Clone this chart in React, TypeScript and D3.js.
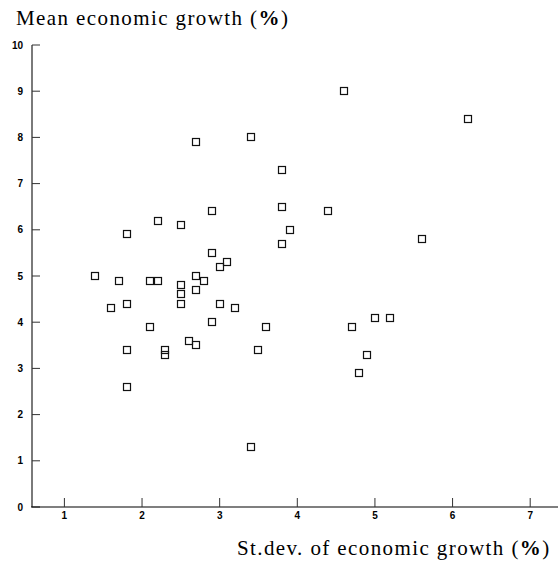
import React from "react";
import * as d3 from "d3";

const xValues: number[] = [
  1.4, 1.7, 2.1, 2.2, 2.5, 2.5, 2.5, 2.7, 2.8, 2.7, 3.0, 3.1, 1.8, 1.6, 3.0, 3.2,
  2.1, 2.9, 3.6, 2.6, 2.7, 3.5, 1.8, 2.3, 2.3, 1.8, 3.4, 2.7, 3.4, 3.8, 3.8, 2.9,
  2.2, 2.5, 1.8, 3.9, 3.8, 2.9, 4.6, 6.2, 4.4, 5.6, 5.0, 5.2, 4.7, 4.9, 4.8,
];
const yValues: number[] = [
  5.0, 4.9, 4.9, 4.9, 4.8, 4.6, 4.4, 5.0, 4.9, 4.7, 5.2, 5.3, 4.4, 4.3, 4.4, 4.3,
  3.9, 4.0, 3.9, 3.6, 3.5, 3.4, 3.4, 3.4, 3.3, 2.6, 1.3, 7.9, 8.0, 7.3, 6.5, 6.4,
  6.2, 6.1, 5.9, 6.0, 5.7, 5.5, 9.0, 8.4, 6.4, 5.8, 4.1, 4.1, 3.9, 3.3, 2.9,
];
const xTicks: number[] = [1, 2, 3, 4, 5, 6, 7];
const yTicks: number[] = [0, 1, 2, 3, 4, 5, 6, 7, 8, 9, 10];
const yTitle = "Mean economic growth (";
const xTitle = "St.dev. of economic growth (";

const W = 558;
const H = 568;

export default function App() {
  const x = d3.scaleLinear().domain([1, 7]).range([64.4, 530.2]);
  const y = d3.scaleLinear().domain([0, 10]).range([507, 45]);
  const axisLeft = 32;
  const axisRight = W;
  const axisBottom = y(0);
  const sz = 8;

  return (
    <svg
      width={W}
      height={H}
      style={{ position: "absolute", left: 0, top: 0, background: "#fff" }}
    >
      {/* title */}
      <text
        x={16}
        y={24.5}
        fontFamily="Liberation Serif"
        fontSize={21}
        letterSpacing={1.4}
        fill="#000"
      >
        {yTitle}
        <tspan fontWeight={700}>%</tspan>)
      </text>

      {/* y axis */}
      <line
        x1={axisLeft}
        x2={axisLeft}
        y1={y(10)}
        y2={axisBottom}
        stroke="#7a7a7a"
        strokeWidth={2}
      />
      {yTicks.map((t) => (
        <g key={"yt" + t}>
          <line
            x1={axisLeft}
            x2={axisLeft + 8}
            y1={y(t)}
            y2={y(t)}
            stroke="#333"
            strokeWidth={1}
          />
          <text
            x={23}
            y={y(t)}
            dy="0.35em"
            textAnchor="end"
            fontFamily="Liberation Sans"
            fontWeight={700}
            fontSize={10}
            fill="#000"
          >
            {t}
          </text>
        </g>
      ))}

      {/* x axis */}
      <line
        x1={axisLeft - 1}
        x2={axisRight}
        y1={axisBottom}
        y2={axisBottom}
        stroke="#000"
        strokeWidth={1.2}
      />
      {xTicks.map((t) => (
        <g key={"xt" + t}>
          <line
            x1={x(t)}
            x2={x(t)}
            y1={axisBottom}
            y2={axisBottom - 9}
            stroke="#333"
            strokeWidth={1}
          />
          <text
            x={x(t)}
            y={515}
            dy="0.35em"
            textAnchor="middle"
            fontFamily="Liberation Sans"
            fontWeight={700}
            fontSize={10}
            fill="#000"
          >
            {t}
          </text>
        </g>
      ))}

      {/* x title */}
      <text
        x={237}
        y={555}
        fontFamily="Liberation Serif"
        fontSize={21}
        letterSpacing={1.4}
        fill="#000"
      >
        {xTitle}
        <tspan fontWeight={700}>%</tspan>)
      </text>

      {/* points */}
      {xValues.map((xv, i) => (
        <rect
          key={"p" + i}
          x={Math.round(x(xv) - sz / 2) + 0.5}
          y={Math.round(y(yValues[i]) - sz / 2) + 0.5}
          width={sz - 1}
          height={sz - 1}
          fill="none"
          stroke="#111"
          strokeWidth={1.2}
        />
      ))}
    </svg>
  );
}
